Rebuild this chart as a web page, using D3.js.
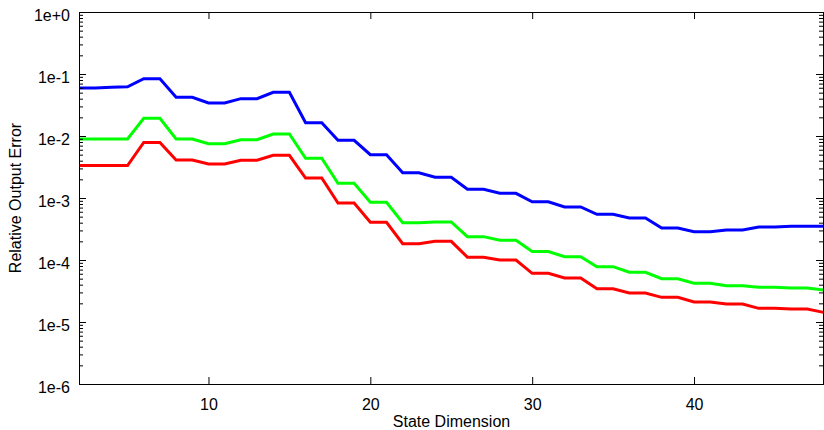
<!DOCTYPE html>
<html>
<head>
<meta charset="utf-8">
<script src="https://cdn.jsdelivr.net/npm/d3@7"></script>
<style>
  body { margin: 0; background: #fff; }
  svg text { font-family: "Liberation Sans", Arial, sans-serif; fill: #000; }
  .axis path, .axis line { stroke: #000; }
</style>
</head>
<body>
<div id="chart"></div>
<script>
// state dimension 2..48
var stateDims = d3.range(2, 49);

// relative output error, one value per state dimension
var blueErr = [0.0594, 0.0594, 0.061, 0.062, 0.084, 0.084, 0.0421, 0.0421, 0.0341, 0.0341,
  0.040, 0.040, 0.0507, 0.0507, 0.0164, 0.0164, 0.00853, 0.00853, 0.00499, 0.00499,
  0.00256, 0.00256, 0.00216, 0.00216, 0.00138, 0.00138, 0.00119, 0.00119, 0.000871, 0.000871,
  0.000716, 0.000716, 0.000546, 0.000546, 0.000476, 0.000476, 0.000328, 0.000328, 0.000286, 0.000286,
  0.000305, 0.000305, 0.000341, 0.000341, 0.00035, 0.00035, 0.00035];

var greenErr = [0.00895, 0.00895, 0.00895, 0.00895, 0.0193, 0.0193, 0.00895, 0.00895, 0.00751, 0.00751,
  0.00872, 0.00872, 0.01077, 0.01077, 0.00437, 0.00437, 0.001726, 0.001726, 0.000852, 0.000852,
  0.000400, 0.000400, 0.000410, 0.000410, 0.000238, 0.000238, 0.000208, 0.000208, 0.000137, 0.000137,
  0.000113, 0.000113, 7.80e-5, 7.80e-5, 6.34e-5, 6.34e-5, 4.99e-5, 4.99e-5, 4.21e-5, 4.21e-5,
  3.85e-5, 3.85e-5, 3.63e-5, 3.63e-5, 3.53e-5, 3.53e-5, 3.28e-5];

var redErr = [0.00334, 0.00334, 0.00334, 0.00334, 0.00786, 0.00786, 0.00410, 0.00410, 0.00353, 0.00353,
  0.00406, 0.00406, 0.00489, 0.00489, 0.00210, 0.00210, 0.000830, 0.000830, 0.000406, 0.000406,
  0.000183, 0.000183, 0.000200, 0.000200, 0.000111, 0.000111, 0.000100, 0.000100, 6.10e-5, 6.10e-5,
  5.13e-5, 5.13e-5, 3.44e-5, 3.44e-5, 2.94e-5, 2.94e-5, 2.50e-5, 2.50e-5, 2.10e-5, 2.10e-5,
  1.95e-5, 1.95e-5, 1.66e-5, 1.66e-5, 1.62e-5, 1.62e-5, 1.43e-5];

var seriesColors = ['#0000ff', '#00ff00', '#ff0000'];
var xTicks = [10, 20, 30, 40];
var yTicks = [1e-6, 1e-5, 1e-4, 1e-3, 1e-2, 1e-1, 1];
var yTickLabels = ['1e-6', '1e-5', '1e-4', '1e-3', '1e-2', '1e-1', '1e+0'];

var width = 824, height = 430;
var margin = {top: 12, right: 0, bottom: 46, left: 79};

var svg = d3.select('#chart').append('svg')
    .attr('width', width)
    .attr('height', height);

var xScale = d3.scaleLinear()
    .domain([2, 48])
    .range([margin.left, width - margin.right - 0.5]);

var yScale = d3.scaleLog()
    .domain([1e-6, 1])
    .range([height - margin.bottom, margin.top]);

// minor log ticks 2..9 per decade
var minorTicks = [];
d3.range(-6, 0).forEach(function (e) {
    d3.range(2, 10).forEach(function (k) { minorTicks.push(k * Math.pow(10, e)); });
});

// lines
var line = d3.line()
    .x(function (d, i) { return xScale(stateDims[i]); })
    .y(function (d) { return yScale(d); });

svg.append('g').selectAll('path')
    .data([blueErr, greenErr, redErr])
    .enter().append('path')
    .attr('d', line)
    .attr('fill', 'none')
    .attr('stroke', function (d, i) { return seriesColors[i]; })
    .attr('stroke-width', 3);

// bottom axis
svg.append('g')
    .attr('class', 'axis')
    .attr('transform', 'translate(0,' + (height - margin.bottom) + ')')
    .call(d3.axisBottom(xScale).tickValues(xTicks).tickSize(-7).tickSizeOuter(0).tickPadding(15))
    .attr('font-size', 16)
    .attr('font-family', null);

// top axis
svg.append('g')
    .attr('class', 'axis')
    .attr('transform', 'translate(0,' + margin.top + ')')
    .call(d3.axisTop(xScale).tickValues(xTicks).tickSize(-7).tickSizeOuter(0).tickFormat(''));

// left axis
var left = svg.append('g')
    .attr('class', 'axis')
    .attr('transform', 'translate(' + margin.left + ',0)')
    .call(d3.axisLeft(yScale).tickValues(yTicks).tickSize(-7).tickSizeOuter(0).tickPadding(9)
        .tickFormat(function (d, i) { return yTickLabels[i]; }))
    .attr('font-size', 16)
    .attr('font-family', null);
left.selectAll('text').attr('dy', '0.5em');

svg.append('g')
    .attr('class', 'axis')
    .attr('transform', 'translate(' + margin.left + ',0)')
    .call(d3.axisLeft(yScale).tickValues(minorTicks).tickSize(-4).tickSizeOuter(0).tickFormat(''))
    .select('.domain').remove();

// right axis
var rightX = width - 1;
svg.append('g')
    .attr('class', 'axis')
    .attr('transform', 'translate(' + rightX + ',0)')
    .call(d3.axisRight(yScale).tickValues(yTicks).tickSize(-7).tickSizeOuter(0).tickFormat(''));

svg.append('g')
    .attr('class', 'axis')
    .attr('transform', 'translate(' + rightX + ',0)')
    .call(d3.axisRight(yScale).tickValues(minorTicks).tickSize(-4).tickSizeOuter(0).tickFormat(''))
    .select('.domain').remove();

// axis titles
svg.append('text')
    .attr('x', (margin.left + width) / 2)
    .attr('y', 427)
    .attr('text-anchor', 'middle')
    .attr('font-size', 16)
    .text('State Dimension');

svg.append('text')
    .attr('transform', 'translate(21,' + ((margin.top + height - margin.bottom) / 2) + ')rotate(-90)')
    .attr('text-anchor', 'middle')
    .attr('font-size', 16)
    .text('Relative Output Error');
</script>
</body>
</html>
